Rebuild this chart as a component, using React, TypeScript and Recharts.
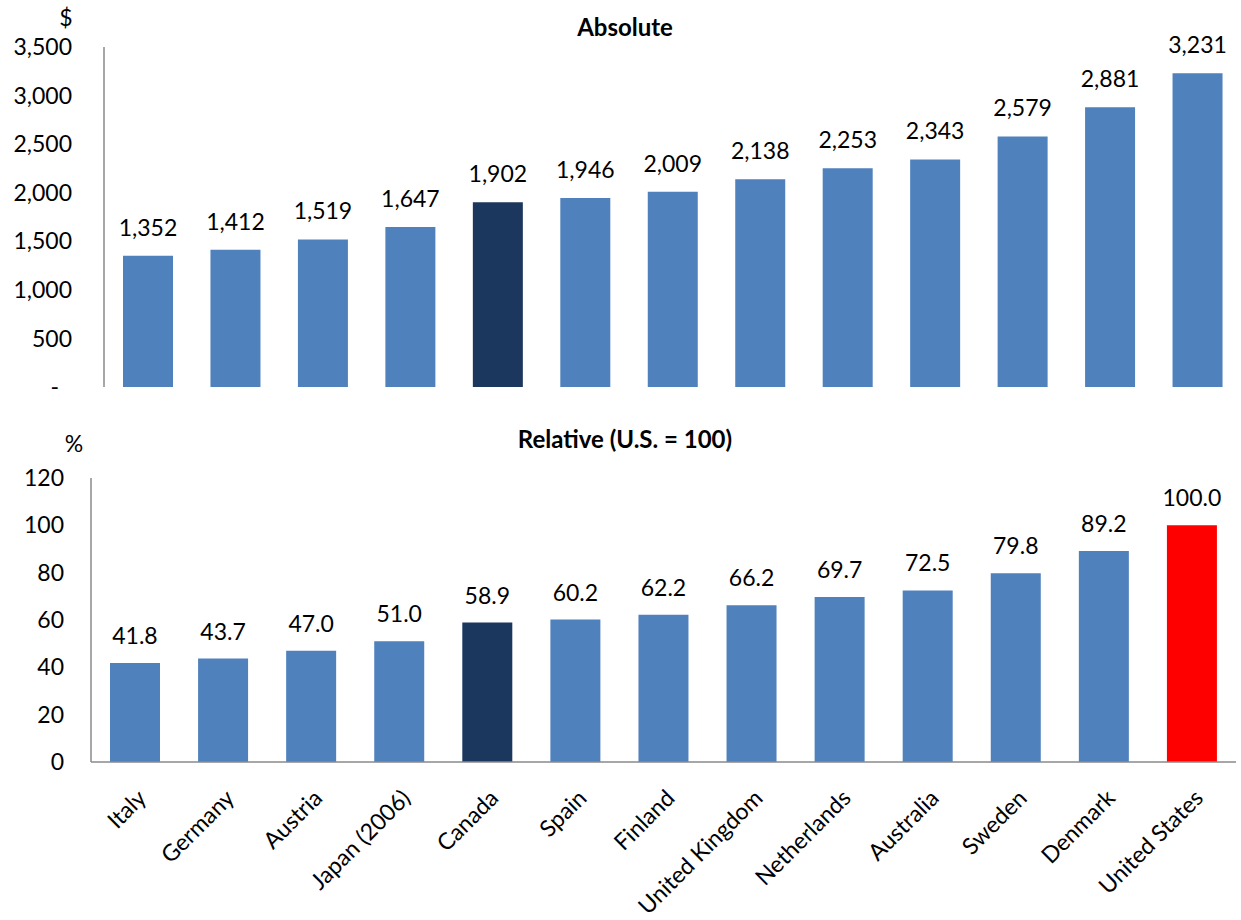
import { BarChart, Bar, XAxis, YAxis, Cell, LabelList } from 'recharts';

const countries = [
  'Italy', 'Germany', 'Austria', 'Japan (2006)', 'Canada', 'Spain', 'Finland',
  'United Kingdom', 'Netherlands', 'Australia', 'Sweden', 'Denmark', 'United States',
];
const absoluteValues = [1352, 1412, 1519, 1647, 1902, 1946, 2009, 2138, 2253, 2343, 2579, 2881, 3231];
const relativeValues = [41.8, 43.7, 47.0, 51.0, 58.9, 60.2, 62.2, 66.2, 69.7, 72.5, 79.8, 89.2, 100.0];
const absoluteTicks = [0, 500, 1000, 1500, 2000, 2500, 3000, 3500];
const relativeTicks = [0, 20, 40, 60, 80, 100, 120];

const FONT = 'Lato, "Liberation Sans", sans-serif';
const BLUE = '#4F81BD';
const NAVY = '#1C375E';
const RED = '#FF0000';
const AXIS = '#8A8A8A';
const TEXT_SIZE = 23;

const absData = countries.map((name, i) => ({ name, value: absoluteValues[i] }));
const relData = countries.map((name, i) => ({ name, value: relativeValues[i] }));

const fmtThousands = (v: number) => v.toLocaleString('en-US');

const AbsTick = (props: any) => {
  const { x, y, payload } = props;
  const v = payload.value as number;
  return (
    <text
      x={v === 0 ? x - 13 : x}
      y={y}
      dy="0.355em"
      textAnchor="end"
      fontSize={TEXT_SIZE}
      fontFamily={FONT}
      fill="#000"
    >
      {v === 0 ? '-' : fmtThousands(v)}
    </text>
  );
};

const CountryTick = (props: any) => {
  const { x, y, payload } = props;
  return (
    <text
      x={0}
      y={0}
      dy="0.71em"
      textAnchor="end"
      fontSize={TEXT_SIZE}
      fontFamily={FONT}
      fill="#000"
      transform={`translate(${x + 1},${y + 26}) rotate(-45)`}
    >
      {payload.value}
    </text>
  );
};

const barColor = (name: string, highlightUS: boolean) => {
  if (name === 'Canada') return NAVY;
  if (highlightUS && name === 'United States') return RED;
  return BLUE;
};

export default function App() {
  return (
    <div style={{ position: 'absolute', left: 0, top: 0, width: 1241, height: 920, background: '#fff', fontFamily: FONT }}>
      {/* top panel: dollars */}
      <div style={{ position: 'absolute', left: 0, top: 0 }}>
        <BarChart width={1241} height={400} data={absData} margin={{ top: 47, right: 0, bottom: 13, left: 0 }}>
          <XAxis dataKey="name" height={0} tick={false} tickLine={false} axisLine={{ stroke: AXIS, strokeWidth: 1.5 }} />
          <YAxis
            width={104}
            domain={[0, 3500]}
            ticks={absoluteTicks}
            interval={0}
            tickLine={false}
            tickSize={0}
            tickMargin={32}
            axisLine={{ stroke: AXIS, strokeWidth: 1.5 }}
            tick={<AbsTick />}
          />
          <Bar dataKey="value" barSize={50} isAnimationActive={false}>
            {absData.map((d) => (
              <Cell key={d.name} fill={barColor(d.name, false)} />
            ))}
            <LabelList
              dataKey="value"
              position="top"
              offset={20}
              formatter={(v: any) => fmtThousands(Number(v))}
              style={{ fontSize: TEXT_SIZE, fontFamily: FONT, fill: '#000' }}
            />
          </Bar>
        </BarChart>
      </div>

      {/* bottom panel: relative to U.S. */}
      <div style={{ position: 'absolute', left: 0, top: 400 }}>
        <BarChart width={1241} height={520} data={relData} margin={{ top: 78, right: 5, bottom: 0, left: 0 }}>
          <XAxis
            dataKey="name"
            height={158}
            interval={0}
            tickLine={false}
            tickSize={0}
            tickMargin={0}
            axisLine={{ stroke: AXIS, strokeWidth: 1.5 }}
            tick={<CountryTick />}
          />
          <YAxis
            width={91}
            domain={[0, 120]}
            ticks={relativeTicks}
            interval={0}
            tickLine={false}
            tickSize={0}
            tickMargin={27}
            axisLine={{ stroke: AXIS, strokeWidth: 1.5 }}
            tick={{ fontSize: TEXT_SIZE, fontFamily: FONT, fill: '#000' }}
          />
          <Bar dataKey="value" barSize={50} isAnimationActive={false}>
            {relData.map((d) => (
              <Cell key={d.name} fill={barColor(d.name, true)} />
            ))}
            <LabelList
              dataKey="value"
              position="top"
              offset={19}
              formatter={(v: any) => Number(v).toFixed(1)}
              style={{ fontSize: TEXT_SIZE, fontFamily: FONT, fill: '#000' }}
            />
          </Bar>
        </BarChart>
      </div>

      {/* titles and unit markers */}
      <svg width={1241} height={920} style={{ position: 'absolute', left: 0, top: 0, pointerEvents: 'none' }}>
        <text x={625} y={36} textAnchor="middle" fontSize={24} fontWeight="bold" fontFamily={FONT} fill="#000">
          Absolute
        </text>
        <text x={66} y={26} textAnchor="middle" fontSize={TEXT_SIZE} fontFamily={FONT} fill="#000">
          $
        </text>
        <text x={625} y={448} textAnchor="middle" fontSize={24} fontWeight="bold" fontFamily={FONT} fill="#000">
          Relative (U.S. = 100)
        </text>
        <text x={74} y={452} textAnchor="middle" fontSize={TEXT_SIZE} fontFamily={FONT} fill="#000">
          %
        </text>
      </svg>
    </div>
  );
}
